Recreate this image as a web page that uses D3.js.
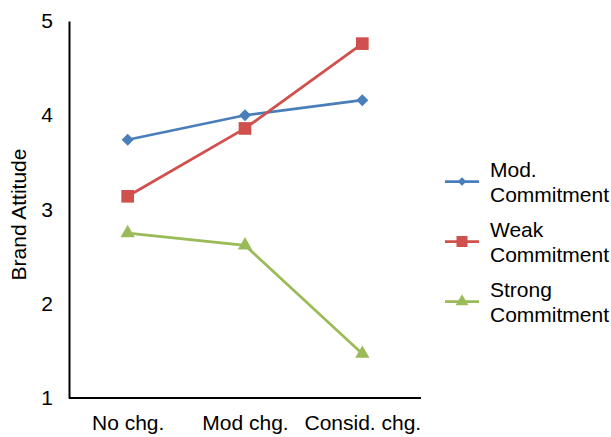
<!DOCTYPE html>
<html>
<head>
<meta charset="utf-8">
<script src="https://cdn.jsdelivr.net/npm/d3@7"></script>
<style>
  html, body { margin: 0; padding: 0; background: #fff; }
  svg { display: block; font-family: "Liberation Sans", Arial, sans-serif; }
</style>
</head>
<body>
<svg id="chart" width="611" height="437"></svg>
<script>
const categories = ["No chg.", "Mod chg.", "Consid. chg."];
const modCommitment = [3.74, 4.0, 4.16];
const weakCommitment = [3.14, 3.86, 4.76];
const strongCommitment = [2.75, 2.62, 1.47];
const yTicks = [1, 2, 3, 4, 5];
const seriesNames = [["Mod.", "Commitment"], ["Weak", "Commitment"], ["Strong", "Commitment"]];
const seriesColors = ["#4A7EBB", "#D0504D", "#9BBB59"];

const series = [modCommitment, weakCommitment, strongCommitment].map((vals, i) => ({
  name: seriesNames[i], color: seriesColors[i], kind: i, values: vals
}));

// marker definitions: [symbol type, size in plot, size in legend, rotation]
const markers = [
  [d3.symbolSquare, 72, 38, 45],
  [d3.symbolSquare, 160, 121, 0],
  [d3.symbolTriangle, 88, 70, 0]
];

const svg = d3.select("#chart");
const mLeft = 69, mRight = 421, mTop = 21, mBottom = 398;
const FS = 21;

const x = d3.scalePoint().domain(categories).range([mLeft, mRight]).padding(0.5);
const y = d3.scaleLinear().domain([1, 5]).range([mBottom, mTop]);

// axes
const yAxis = svg.append("g").attr("transform", `translate(${mLeft},0)`)
  .call(d3.axisLeft(y).tickValues(yTicks).tickSize(0).tickPadding(16).tickFormat(d3.format("d")));
yAxis.select(".domain").attr("stroke", "#000").attr("stroke-width", 2);
yAxis.selectAll("text").attr("font-size", FS).attr("fill", "#000")
  .attr("font-family", "Liberation Sans, Arial, sans-serif");

const xAxis = svg.append("g").attr("transform", `translate(0,${mBottom})`)
  .call(d3.axisBottom(x).tickSize(0).tickPadding(17));
xAxis.select(".domain").attr("d", `M${mLeft},0H${mRight}`).attr("stroke", "#000").attr("stroke-width", 2);
xAxis.selectAll("text").attr("font-size", FS).attr("fill", "#000")
  .attr("font-family", "Liberation Sans, Arial, sans-serif");

// y label
svg.append("text")
  .attr("transform", `translate(26,${(mTop + mBottom) / 2 + 5}) rotate(-90)`)
  .attr("text-anchor", "middle")
  .attr("font-size", FS)
  .text("Brand Attitude");

const line = d3.line().x((d, i) => x(categories[i])).y(d => y(d));
series.forEach(s => {
  const m = markers[s.kind];
  svg.append("path").datum(s.values)
    .attr("d", line).attr("fill", "none")
    .attr("stroke", s.color).attr("stroke-width", 2.75);
  svg.selectAll(null).data(s.values).enter().append("path")
    .attr("transform", (d, i) => `translate(${x(categories[i])},${y(d)}) rotate(${m[3]})`)
    .attr("d", d3.symbol().type(m[0]).size(m[1]))
    .attr("fill", s.color);
});

// legend
const legend = svg.append("g");
series.forEach((s, i) => {
  const m = markers[s.kind];
  const cy = 181.5 + i * 60;
  const g = legend.append("g").attr("transform", `translate(0,${cy})`);
  g.append("line").attr("x1", 445).attr("x2", 479).attr("y1", 0).attr("y2", 0)
    .attr("stroke", s.color).attr("stroke-width", 2.75);
  g.append("path").attr("transform", `translate(462,0) rotate(${m[3]})`)
    .attr("d", d3.symbol().type(m[0]).size(m[2]))
    .attr("fill", s.color);
  g.append("text").attr("x", 490).attr("y", -4.5).attr("font-size", FS).text(s.name[0]);
  g.append("text").attr("x", 490).attr("y", 20.5).attr("font-size", FS).text(s.name[1]);
});
</script>
</body>
</html>
